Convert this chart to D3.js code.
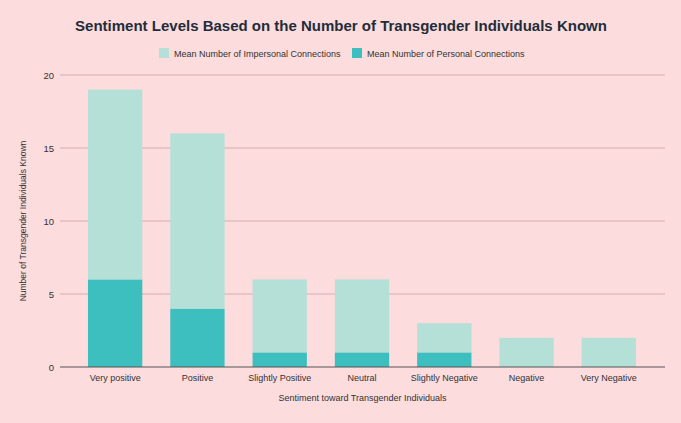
<!DOCTYPE html>
<html>
<head>
<meta charset="utf-8">
<script src="https://cdn.jsdelivr.net/npm/d3@7"></script>
<style>
  html, body { margin: 0; padding: 0; background: #fcdcdd; }
  svg { display: block; font-family: "Liberation Sans", Arial, sans-serif; }
</style>
</head>
<body>
<div id="chart"></div>
<script>
const categories = ['Very positive', 'Positive', 'Slightly Positive', 'Neutral',
    'Slightly Negative', 'Negative', 'Very Negative'];
const personal = [6, 4, 1, 1, 1, 0, 0];
const impersonal = [13, 12, 5, 5, 2, 2, 2];
const yTicks = [0, 5, 10, 15, 20];
const seriesNames = ['Mean Number of Impersonal Connections', 'Mean Number of Personal Connections'];

const width = 681;
const height = 423;
const margin = {top: 75, right: 16, bottom: 56, left: 60};
const colors = {personal: '#3dbfbf', impersonal: '#b4e0d8'};

const svg = d3.select('#chart')
  .append('svg')
    .attr('width', width)
    .attr('height', height);

svg.append('rect')
    .attr('width', width)
    .attr('height', height)
    .attr('fill', '#fcdcdd');

const data = categories.map((c, i) => ({
    category: c,
    personal: personal[i],
    impersonal: impersonal[i]
}));

// personal sits at the bottom, impersonal stacked on top
const stack = d3.stack().keys(['personal', 'impersonal']);
const series = stack(data);

const xScale = d3.scaleBand()
    .domain(categories)
    .range([74, 650])
    .paddingInner(0.34)
    .paddingOuter(0.17);

const yScale = d3.scaleLinear()
    .domain([0, 20])
    .range([height - margin.bottom, margin.top]);

const plotRight = width - margin.right;

// gridlines
svg.append('g')
    .selectAll('line')
    .data(yTicks.filter(d => d > 0))
    .join('line')
      .attr('x1', margin.left)
      .attr('x2', plotRight)
      .attr('y1', d => yScale(d))
      .attr('y2', d => yScale(d))
      .attr('stroke', '#d7adb2')
      .attr('stroke-width', 1);

// y tick labels
const yAxis = d3.axisLeft(yScale).tickValues(yTicks).tickSize(0).tickPadding(6);
svg.append('g')
    .attr('transform', `translate(${margin.left},0)`)
    .call(yAxis)
    .call(g => g.select('.domain').remove())
    .call(g => g.selectAll('text')
        .attr('fill', '#333')
        .attr('font-size', 9.5)
        .attr('font-family', '"Liberation Sans", Arial, sans-serif'));

// bars
svg.append('g')
    .selectAll('g')
    .data(series)
    .join('g')
      .attr('fill', d => colors[d.key])
    .selectAll('rect')
    .data(d => d)
    .join('rect')
      .attr('x', d => xScale(d.data.category))
      .attr('y', d => yScale(d[1]))
      .attr('width', xScale.bandwidth())
      .attr('height', d => yScale(d[0]) - yScale(d[1]));

// baseline
svg.append('line')
    .attr('x1', margin.left)
    .attr('x2', plotRight)
    .attr('y1', yScale(0))
    .attr('y2', yScale(0))
    .attr('stroke', '#555')
    .attr('stroke-width', 1.2);

// x tick labels
const xAxis = d3.axisBottom(xScale).tickSize(0).tickPadding(8);
svg.append('g')
    .attr('transform', `translate(0,${yScale(0)})`)
    .call(xAxis)
    .call(g => g.select('.domain').remove())
    .call(g => g.selectAll('text')
        .attr('fill', '#333')
        .attr('font-size', 9)
        .attr('font-family', '"Liberation Sans", Arial, sans-serif'));

// title
svg.append('text')
    .attr('x', 341)
    .attr('y', 31)
    .attr('text-anchor', 'middle')
    .attr('font-size', 15)
    .attr('font-weight', 'bold')
    .attr('fill', '#1f2d3a')
    .text('Sentiment Levels Based on the Number of Transgender Individuals Known');

// legend
const legendItems = [
    {name: seriesNames[0], color: colors.impersonal, x: 159},
    {name: seriesNames[1], color: colors.personal, x: 352}
];
const legend = svg.append('g')
    .selectAll('g')
    .data(legendItems)
    .join('g')
      .attr('transform', d => `translate(${d.x},48)`);
legend.append('rect')
    .attr('width', 10)
    .attr('height', 10)
    .attr('fill', d => d.color);
legend.append('text')
    .attr('x', 15)
    .attr('y', 8.5)
    .attr('font-size', 9)
    .attr('fill', '#333')
    .text(d => d.name);

// axis titles
svg.append('text')
    .attr('x', (margin.left + plotRight) / 2)
    .attr('y', 401)
    .attr('text-anchor', 'middle')
    .attr('font-size', 9)
    .attr('fill', '#333')
    .text('Sentiment toward Transgender Individuals');

svg.append('text')
    .attr('transform', `translate(26,${(yScale(0) + yScale(20)) / 2}) rotate(-90)`)
    .attr('text-anchor', 'middle')
    .attr('font-size', 8.5)
    .attr('fill', '#333')
    .text('Number of Transgender Individuals Known');
</script>
</body>
</html>
